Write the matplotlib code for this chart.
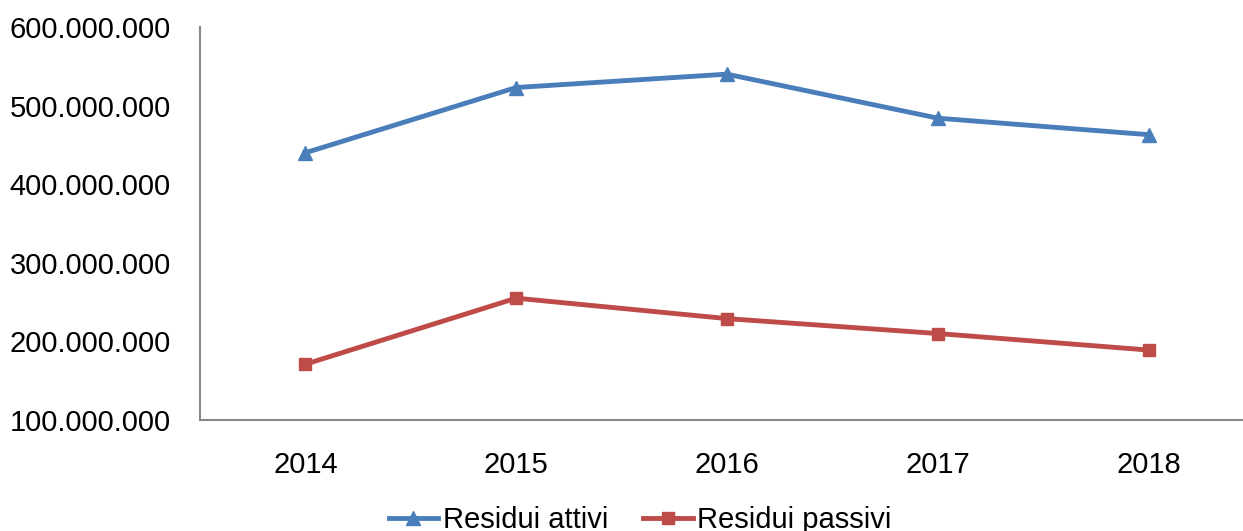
import matplotlib.pyplot as plt
from matplotlib.ticker import FuncFormatter

years = ['2014', '2015', '2016', '2017', '2018']
attivi = [440e6, 523e6, 540e6, 484e6, 463e6]
passivi = [171e6, 255e6, 229e6, 210e6, 189e6]

plt.rcParams['font.family'] = ['Liberation Sans', 'DejaVu Sans']

fig = plt.figure(figsize=(12.43, 5.31), dpi=100)
ax = fig.add_axes([200 / 1243, 1 - 420 / 531, 1054 / 1243, 393 / 531])

x = range(len(years))
ax.plot(x, attivi, color='#4A7EBB', lw=3.5, marker='^', ms=10, label='Residui attivi')
ax.plot(x, passivi, color='#BE4B48', lw=3.5, marker='s', ms=9, label='Residui passivi')

ax.set_xlim(-0.5, 4.5)
ax.set_ylim(100e6, 600e6)
ax.set_yticks([100e6, 200e6, 300e6, 400e6, 500e6, 600e6])
ax.yaxis.set_major_formatter(FuncFormatter(lambda v, p: f'{int(v):,}'.replace(',', '.')))
ax.set_xticks(list(x))
ax.set_xticklabels(years)

for s in ['top', 'right']:
    ax.spines[s].set_visible(False)
for s in ['left', 'bottom']:
    ax.spines[s].set_color('#888888')
    ax.spines[s].set_linewidth(1.5)
ax.tick_params(axis='both', length=0, labelsize=21)
ax.tick_params(axis='y', pad=21)
ax.tick_params(axis='x', pad=22)

fig.legend(loc='center', bbox_to_anchor=(640 / 1243, 1 - 520 / 531), ncol=2, frameon=False,
           fontsize=21, handlelength=1.7, handletextpad=0.15, columnspacing=1.2)

fig.savefig('out.png', dpi=100)
